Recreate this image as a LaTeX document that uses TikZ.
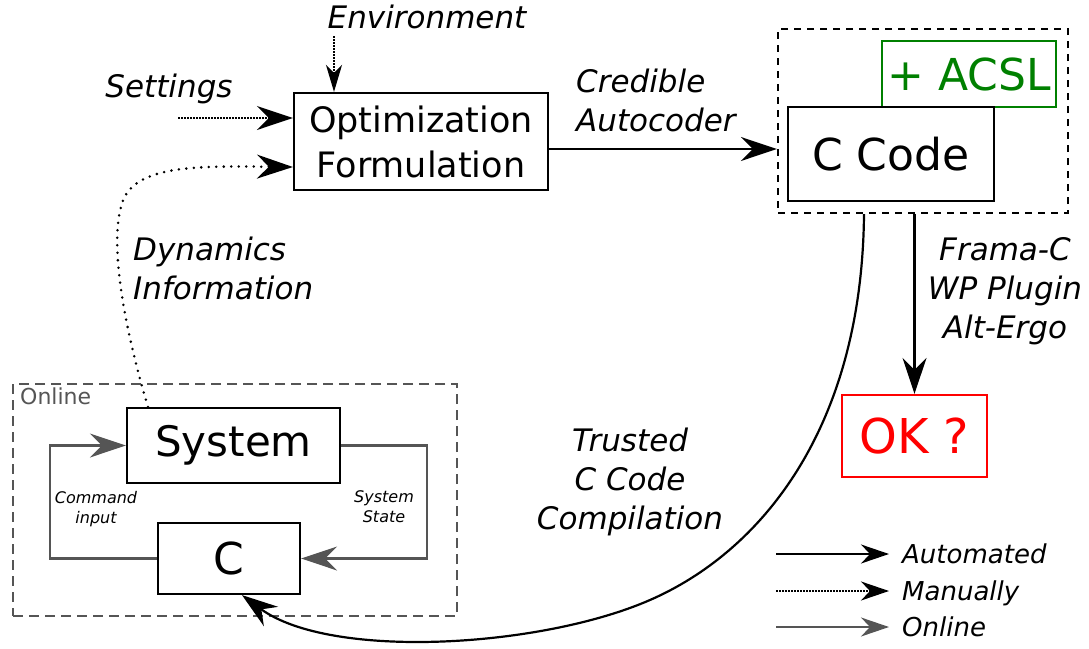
\documentclass[tikz,border=0pt]{standalone}
\usepackage{fontspec}
\setmainfont{DejaVu Sans}[ItalicFont={DejaVu Sans Oblique}]
\usetikzlibrary{arrows.meta,calc}
\definecolor{og}{RGB}{85,85,85}
\definecolor{acslgreen}{RGB}{0,128,0}
\definecolor{okred}{RGB}{255,0,0}
\newcommand{\myfs}[2]{\fontsize{#1}{#2}\selectfont}
\begin{document}
\begin{tikzpicture}[x=1pt,y=-1pt,
  box/.style={draw,line width=2.2pt,inner sep=0pt,align=center},
  lab/.style={inner sep=0pt,align=center,font=\myfs{31}{39}\itshape},
  small/.style={inner sep=0pt,align=center,font=\myfs{16}{20}\itshape},
  leg/.style={anchor=base west,inner sep=0pt,font=\myfs{26}{30}\itshape},
  bigtip/.style={-{Stealth[length=36pt,width=24pt,inset=12pt]}},
  smalltip/.style={-{Stealth[length=28pt,width=19pt,inset=9pt]}},
  envtip/.style={-{Stealth[length=27pt,width=16pt,inset=8pt]}},
  autoline/.style={line width=2.2pt},
  manual/.style={line width=2.2pt,dash pattern=on 1.5pt off 1.5pt},
  manualdots/.style={line width=2.8pt,line cap=round,dash pattern=on 0pt off 7.5pt},
  online/.style={line width=2.2pt,draw=og,color=og},
]
\useasboundingbox (0,0) rectangle (1089,648);

% main boxes
\node[box,minimum width=254pt,minimum height=97pt,font=\myfs{35}{45}] (opt) at (421,141.5) {Optimization\\Formulation};
\node[draw,dash pattern=on 7pt off 6pt,line width=2.2pt,minimum width=290pt,minimum height=184pt,inner sep=0pt] (grp) at (923,121) {};
\node[box,draw=acslgreen,text=acslgreen,minimum width=174pt,minimum height=66pt,font=\myfs{44}{50}] (acsl) at (969,74) {+ ACSL};
\node[box,fill=white,minimum width=206pt,minimum height=94pt,font=\myfs{44}{50}] (ccode) at (891,154) {C Code};
\node[box,draw=okred,text=okred,minimum width=145pt,minimum height=82pt,font=\myfs{48}{54}] (ok) at (914.5,436) {OK ?};

% online block
\node[draw=og,line width=2.2pt,dash pattern=on 10pt off 6pt,minimum width=444pt,minimum height=232pt,inner sep=0pt] (onl) at (235,500) {};
\node[anchor=base west,inner sep=0pt,text=og,font=\myfs{22}{26}] (onlt) at (20,404) {Online};
\node[box,minimum width=213pt,minimum height=75pt,font=\myfs{42}{48}] (sys) at (233.5,445.5) {System};
\node[box,minimum width=142pt,minimum height=71pt,font=\myfs{44}{50}] (c) at (229,558.5) {C};
\node[small] (cmd) at (96,509) {Command\\input};
\node[small] (sst) at (384,507) {System\\State};

% labels
\node[lab,anchor=base] (env) at (427,28) {Environment};
\node[lab,anchor=base] (set) at (169,97) {Settings};
\node[lab,align=left,anchor=west] (cred) at (576,100) {Credible\\Autocoder};
\node[lab,align=left,anchor=west] (dyn) at (133,268) {Dynamics\\Information};
\node[lab] (frama) at (1005,291.4) {Frama-C\\WP Plugin\\Alt-Ergo};
\node[lab] (trust) at (630,482) {Trusted\\C Code\\Compilation};

% connectors
\coordinate (setst) at (178,118);
\draw[manual,bigtip] (setst) -- (setst -| opt.west);
\coordinate (envst) at (334,36);
\draw[manual,envtip] (envst) -- (envst |- opt.north);
\draw[manualdots,bigtip] ([xshift=-85.5pt]sys.north) .. controls (122,320) and (108,235) .. (124,198) .. controls (140,165) and (200,166) .. ([yshift=-25.5pt]opt.west);
\draw[autoline,bigtip] ([yshift=-7.5pt]opt.east) -- ([yshift=-7.5pt]opt.east -| grp.west);
\draw[autoline,bigtip] (ok.north |- grp.south) -- (ok.north);
\draw[autoline,bigtip] ([xshift=-59pt]grp.south) .. controls (862,430) and (760,552) .. (650,600) .. controls (540,648) and (330,660) .. ([xshift=13pt]c.south);
\draw[online,bigtip] (c.west) -- ++(-107,0) |- (sys.west);
\draw[online,bigtip] (sys.east) -- ++(86,0) |- (c.east);

% legend
\node[leg] (la) at (902,563) {Automated};
\node[leg] (lm) at (902,600) {Manually};
\node[leg] (lo) at (902,636) {Online};
\coordinate (l1) at (776,554);
\coordinate (l2) at (776,591);
\coordinate (l3) at (776,627);
\draw[autoline,smalltip,shorten >=13pt] (l1) -- (l1 -| la.west);
\draw[manual,smalltip,shorten >=13pt] (l2) -- (l2 -| lm.west);
\draw[online,smalltip,shorten >=13pt] (l3) -- (l3 -| lo.west);
\end{tikzpicture}
\end{document}
